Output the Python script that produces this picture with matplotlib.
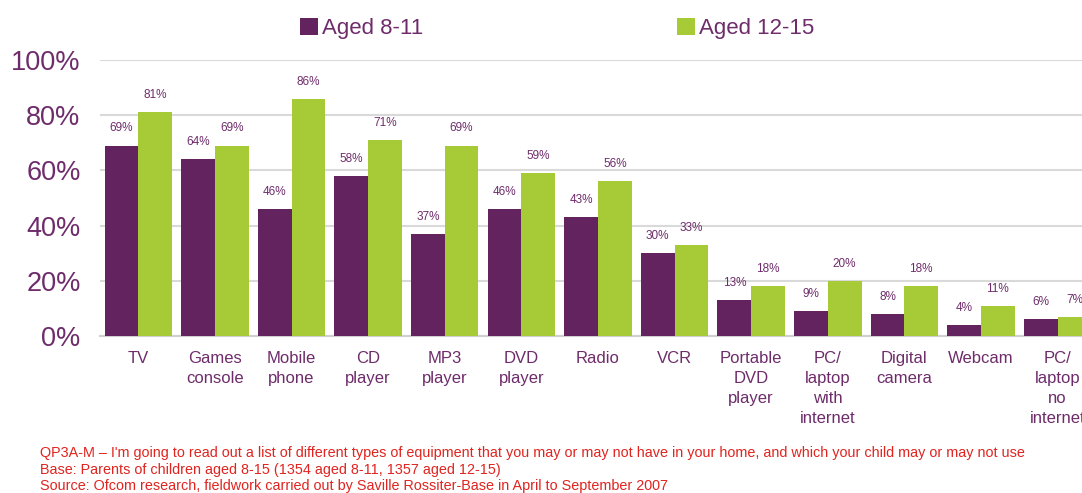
import numpy as np
import matplotlib.pyplot as plt

plt.rcParams['font.family'] = ['Liberation Sans', 'DejaVu Sans']

categories = ["TV", "Games\nconsole", "Mobile\nphone", "CD\nplayer", "MP3\nplayer",
              "DVD\nplayer", "Radio", "VCR", "Portable\nDVD\nplayer",
              "PC/\nlaptop\nwith\ninternet", "Digital\ncamera", "Webcam",
              "PC/\nlaptop\nno\ninternet"]
aged_8_11 = [69, 64, 46, 58, 37, 46, 43, 30, 13, 9, 8, 4, 6]
aged_12_15 = [81, 69, 86, 71, 69, 59, 56, 33, 18, 20, 18, 11, 7]
yticks = [0, 20, 40, 60, 80, 100]

PURPLE = "#62235F"
GREEN = "#A6CB36"
TEXT = "#6E2C6B"
RED = "#E0241F"

fig = plt.figure(figsize=(10.82, 4.93), dpi=100)
ax = fig.add_axes([0.0924, 0.3185, 0.9205, 0.5598])

x = np.arange(len(categories))
w = 0.44
b1 = ax.bar(x - w / 2, aged_8_11, w, color=PURPLE, label="Aged 8-11", zorder=3)
b2 = ax.bar(x + w / 2, aged_12_15, w, color=GREEN, label="Aged 12-15", zorder=3)

for bars, vals in [(b1, aged_8_11), (b2, aged_12_15)]:
    for r, v in zip(bars, vals):
        ax.annotate(f"{v}%", (r.get_x() + r.get_width() / 2, v), xytext=(0, 8),
                    textcoords="offset points", ha="center", va="bottom",
                    fontsize=8.5, color=TEXT)

ax.set_xlim(-0.5, len(categories) - 0.5)
ax.set_ylim(0, 100)
ax.set_yticks(yticks)
ax.set_yticklabels([f"{t}%" for t in yticks], fontsize=19.5, color=TEXT)
ax.set_xticks(x)
ax.set_xticklabels(categories, fontsize=12, color=TEXT, linespacing=1.4)
ax.tick_params(length=0, axis="y", pad=14)
ax.tick_params(length=0, axis="x", pad=11)
ax.grid(axis="y", color="#D9D9D9", linewidth=1.5, zorder=0)
for s in ["left", "right", "top"]:
    ax.spines[s].set_visible(False)
ax.spines["bottom"].set_color("#D0D0D0")
ax.spines["bottom"].set_linewidth(1.5)

fig.legend(handles=[b1, b2], loc="upper left", bbox_to_anchor=(0.259, 1.005),
           ncol=2, frameon=False, fontsize=16, handlelength=0.8, handleheight=0.8,
           handletextpad=0.2, columnspacing=11.4, labelcolor=TEXT)

notes = ["QP3A-M \u2013 I'm going to read out a list of different types of equipment that you may or may not have in your home, and which your child may or may not use",
         "Base: Parents of children aged 8-15 (1354 aged 8-11, 1357 aged 12-15)",
         "Source: Ofcom research, fieldwork carried out by Saville Rossiter-Base in April to September 2007"]
for i, line in enumerate(notes):
    fig.text(0.037, 0.073 - i * 0.0335, line, fontsize=10.4, color=RED)

fig.savefig("out.png", dpi=100)
